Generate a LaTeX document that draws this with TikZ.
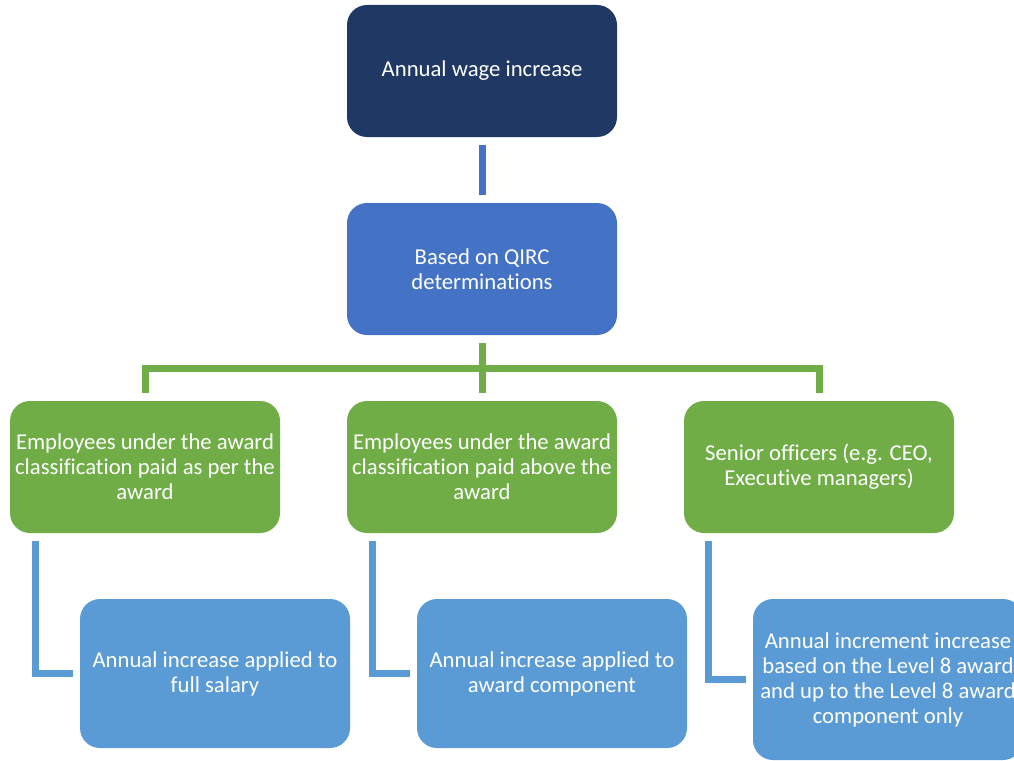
\documentclass[tikz,border=0pt]{standalone}
\usepackage{fontspec}
\setmainfont[Ligatures=CommonOff]{Carlito}
\usetikzlibrary{positioning}

\definecolor{navy}{HTML}{203864}
\definecolor{qircblue}{HTML}{4472C4}
\definecolor{leafgreen}{HTML}{70AD47}
\definecolor{skyblue}{HTML}{5B9BD5}

\begin{document}
\begin{tikzpicture}[
    x=1pt, y=-1pt,
    box/.style={
        rectangle,
        rounded corners=20pt,
        minimum width=270pt,
        minimum height=132pt,
        inner sep=0pt,
        outer sep=0pt,
        text=white,
        align=center,
        font=\fontsize{22.7}{25}\selectfont
    },
    stem/.style={
        line width=7pt,
        qircblue,
        shorten <=8pt,
        shorten >=8pt
    },
    bracket/.style={
        line width=7pt,
        leafgreen,
        line join=miter,
        shorten <=8pt,
        shorten >=8pt
    },
    elbow/.style={
        line width=7pt,
        skyblue,
        line join=miter,
        shorten <=8pt,
        shorten >=7pt
    }
]
    \useasboundingbox (0,0) rectangle (1014,760);
    \clip (0,0) rectangle (1014,760);

    % Top levels
    \node[box, fill=navy] (wage) at (482,71) {Annual wage increase};
    \node[box, fill=qircblue, below=66pt of wage] (qirc) {Based on QIRC\\determinations};

    % Employee groups
    \node[box, fill=leafgreen, below=66pt of qirc] (perAward) {Employees under the award\\classification paid above the\\award};
    \node[box, fill=leafgreen, left=67pt of perAward] (asAward) {Employees under the award\\classification paid as per the\\award};
    \node[box, fill=leafgreen, right=67pt of perAward] (senior) {Senior officers (e.g. CEO,\\Executive managers)};

    % Outcomes
    \node[box, fill=skyblue, minimum height=149pt, below=66pt of asAward.south west, anchor=north west, xshift=70pt] (fullSal) {Annual increase applied to\\full salary};
    \node[box, fill=skyblue, minimum height=149pt, below=66pt of perAward.south west, anchor=north west, xshift=70pt] (component) {Annual increase applied to\\award component};
    \node[box, fill=skyblue, minimum height=161pt, below=66pt of senior.south west, anchor=north west, xshift=69pt] (level8) {Annual increment increase\\based on the Level 8 award\\and up to the Level 8 award\\component only};

    % Connectors
    \draw[stem] (wage.south) -- (qirc.north);
    \coordinate[below=33pt of qirc] (split);
    \draw[bracket] (qirc.south) -- (perAward.north);
    \draw[bracket] (asAward.north) |- (split) -| (senior.north);

    \draw[elbow] ([xshift=25pt]asAward.south west) |- (fullSal.west);
    \draw[elbow] ([xshift=25pt]perAward.south west) |- (component.west);
    \draw[elbow] ([xshift=24pt]senior.south west) |- (level8.west);

\end{tikzpicture}
\end{document}
